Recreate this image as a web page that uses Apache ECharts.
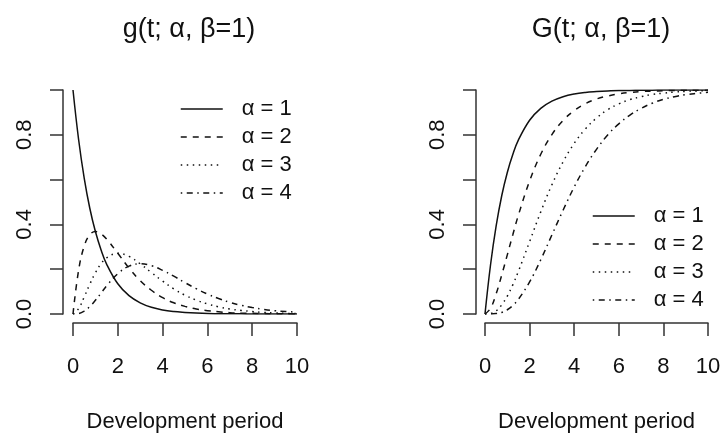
<!DOCTYPE html>
<html>
<head>
<meta charset="utf-8">
<script src="https://cdn.jsdelivr.net/npm/echarts@6/dist/echarts.min.js"></script>
<style>html,body{margin:0;padding:0;background:#fff}#c{width:722px;height:434px}</style>
</head>
<body>
<div id="c"></div>
<script>
// Development period (t) sample points
var tValues = [0,0.25,0.5,0.75,1,1.25,1.5,2,2.5,3,3.5,4,4.5,5,5.5,6,6.5,7,7.5,8,8.5,9,9.5,10];
// density g(t; alpha, beta=1)
var g1 = [1,0.779,0.607,0.472,0.368,0.287,0.223,0.135,0.082,0.050,0.030,0.018,0.011,0.007,0.004,0.002,0.0015,0.001,0.0006,0.0003,0.0002,0.0001,0.0001,0];
var g2 = [0,0.195,0.303,0.354,0.368,0.358,0.335,0.271,0.205,0.149,0.106,0.073,0.050,0.034,0.022,0.015,0.010,0.006,0.004,0.003,0.002,0.001,0.0007,0.0005];
var g3 = [0,0.024,0.076,0.133,0.184,0.224,0.251,0.271,0.257,0.224,0.185,0.147,0.112,0.084,0.062,0.045,0.032,0.022,0.016,0.011,0.007,0.005,0.003,0.002];
var g4 = [0,0.002,0.013,0.033,0.061,0.093,0.126,0.180,0.214,0.224,0.216,0.195,0.169,0.140,0.113,0.089,0.069,0.052,0.039,0.029,0.021,0.015,0.011,0.008];
// cumulative G(t; alpha, beta=1)
var G1 = [0,0.221,0.393,0.528,0.632,0.713,0.777,0.865,0.918,0.950,0.970,0.982,0.989,0.993,0.996,0.998,0.998,0.999,0.999,1,1,1,1,1];
var G2 = [0,0.026,0.090,0.174,0.264,0.355,0.442,0.594,0.713,0.801,0.864,0.908,0.939,0.960,0.973,0.983,0.989,0.993,0.995,0.997,0.998,0.999,0.999,0.9995];
var G3 = [0,0.002,0.014,0.041,0.080,0.131,0.191,0.323,0.456,0.577,0.679,0.762,0.826,0.875,0.912,0.938,0.957,0.970,0.980,0.986,0.991,0.994,0.996,0.997];
var G4 = [0,0.0001,0.002,0.007,0.019,0.038,0.066,0.143,0.242,0.353,0.463,0.567,0.658,0.735,0.799,0.849,0.888,0.918,0.941,0.958,0.970,0.979,0.985,0.990];
var seriesNames = ['\u03b1 = 1','\u03b1 = 2','\u03b1 = 3','\u03b1 = 4'];
var titles = ['g(t; \u03b1, \u03b2=1)','G(t; \u03b1, \u03b2=1)'];
var xAxisName = 'Development period';
var xTicks = [0,2,4,6,8,10];

var FONT = '"Liberation Sans", Arial, sans-serif';
var dashes = ['solid',[6,6],[1.5,4.5],[1.5,4.5,6,4.5]];
function pairs(ys){ return tValues.map(function(t,i){ return [t, ys[i]]; }); }
function mkSeries(list, gi){
  return list.map(function(ys, k){
    return {
      type:'line', name: seriesNames[k], xAxisIndex: gi, yAxisIndex: gi,
      data: pairs(ys), symbol:'none', smooth:0.4,
      lineStyle:{color:'#111', width:1.5, type: dashes[k]},
      itemStyle:{color:'#111'}, animation:false
    };
  });
}
var axisLineStyle = {color:'#333', width:1.5};
function xAx(gi){
  return {type:'value', gridIndex:gi, min:0, max:10, interval:2, offset:9,
    axisLine:{show:true, onZero:false, lineStyle:axisLineStyle},
    axisTick:{show:true, length:13, lineStyle:axisLineStyle},
    axisLabel:{fontFamily:FONT, fontSize:22, color:'#111', margin:33,
      formatter:function(v){ return xTicks.indexOf(v) >= 0 ? String(v) : ''; }},
    splitLine:{show:false},
    name:xAxisName, nameLocation:'middle', nameGap:88,
    nameTextStyle:{fontFamily:FONT, fontSize:22, color:'#111'}};
}
function yAx(gi, off){
  return {type:'value', gridIndex:gi, min:0, max:1, interval:0.2, offset:off,
    axisLine:{show:true, onZero:false, lineStyle:axisLineStyle},
    axisTick:{show:true, length:13, lineStyle:axisLineStyle},
    axisLabel:{fontFamily:FONT, fontSize:22, color:'#111', margin:27, rotate:90,
      formatter:function(v){ var n=Math.round(v*10); return (n%4===0) ? v.toFixed(1) : ''; }},
    splitLine:{show:false}};
}
function legend(left, top){
  return {orient:'vertical', left:left, top:top, itemWidth:42, itemHeight:14, itemGap:6,
    data:seriesNames, selectedMode:false,
    lineStyle:{width:1.5},
    itemStyle:{color:'rgba(0,0,0,0)', borderColor:'rgba(0,0,0,0)', borderWidth:0},
    textStyle:{fontFamily:FONT, fontSize:22, color:'#111', padding:[0,0,0,14]}};
}
var chart = echarts.init(document.getElementById('c'), null, {renderer:'canvas'});
chart.setOption({
  backgroundColor:'#fff',
  animation:false,
  title:[
    {text:titles[0], left:184, top:11, textAlign:'center', textStyle:{fontFamily:FONT, fontSize:27, fontWeight:'normal', color:'#111'}},
    {text:titles[1], left:596, top:11, textAlign:'center', textStyle:{fontFamily:FONT, fontSize:27, fontWeight:'normal', color:'#111'}}
  ],
  grid:[
    {left:73, top:90, width:224, height:224, containLabel:false, outerBoundsMode:'none'},
    {left:485, top:90, width:223, height:224, containLabel:false, outerBoundsMode:'none'}
  ],
  xAxis:[xAx(0), xAx(1)],
  yAxis:[yAx(0,10), yAx(1,9)],
  legend:[legend(175,93), legend(587,200)],
  series: mkSeries([g1,g2,g3,g4],0).concat(mkSeries([G1,G2,G3,G4],1))
});
</script>
</body>
</html>
